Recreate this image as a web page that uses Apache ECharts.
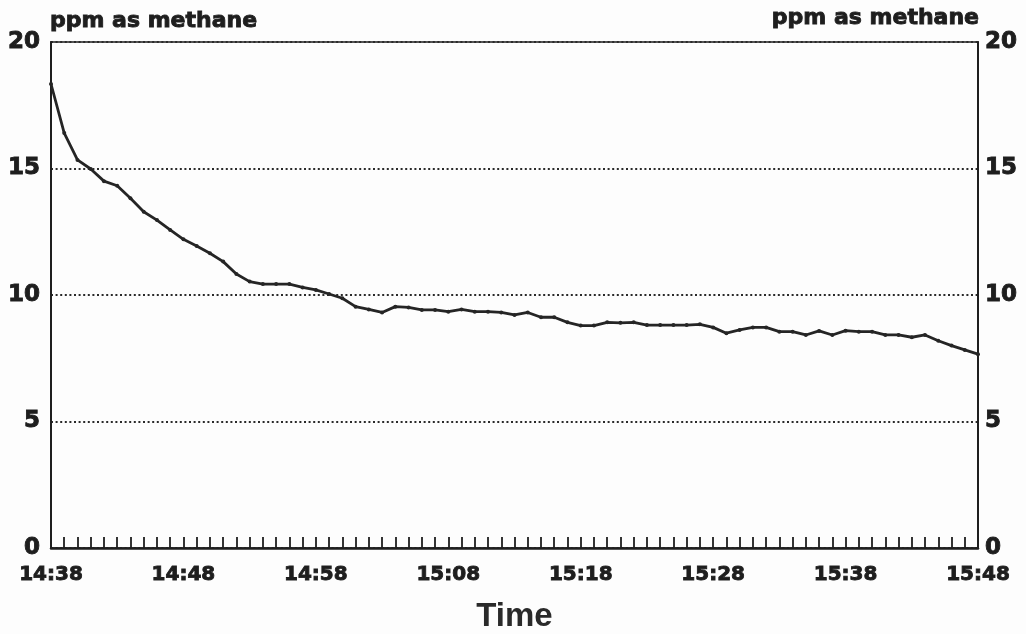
<!DOCTYPE html>
<html>
<head>
<meta charset="utf-8">
<title>ppm as methane</title>
<script src="https://cdn.jsdelivr.net/npm/echarts@6/dist/echarts.min.js"></script>
<style>
  html, body { margin: 0; padding: 0; background: #fdfdfd; }
  #chart { width: 1026px; height: 634px; }
</style>
</head>
<body>
<div id="chart"></div>
<script>
// Sample times, one reading per minute
const times = [
  '14:38','14:39','14:40','14:41','14:42','14:43','14:44','14:45','14:46','14:47',
  '14:48','14:49','14:50','14:51','14:52','14:53','14:54','14:55','14:56','14:57',
  '14:58','14:59','15:00','15:01','15:02','15:03','15:04','15:05','15:06','15:07',
  '15:08','15:09','15:10','15:11','15:12','15:13','15:14','15:15','15:16','15:17',
  '15:18','15:19','15:20','15:21','15:22','15:23','15:24','15:25','15:26','15:27',
  '15:28','15:29','15:30','15:31','15:32','15:33','15:34','15:35','15:36','15:37',
  '15:38','15:39','15:40','15:41','15:42','15:43','15:44','15:45','15:46','15:47',
  '15:48'
];

// Concentration, ppm as methane
const ppm = [
  18.34, 16.40, 15.34, 14.98, 14.50, 14.32, 13.82, 13.29, 12.96, 12.57,
  12.20, 11.94, 11.65, 11.32, 10.83, 10.53, 10.43, 10.43, 10.43, 10.30,
  10.20, 10.04,  9.87,  9.54,  9.43,  9.31,  9.54,  9.51,  9.41,  9.41,
   9.34,  9.43,  9.34,  9.34,  9.31,  9.21,  9.31,  9.12,  9.12,  8.92,
   8.79,  8.79,  8.92,  8.90,  8.92,  8.81,  8.81,  8.81,  8.81,  8.84,
   8.72,  8.49,  8.62,  8.72,  8.72,  8.55,  8.55,  8.42,  8.58,  8.42,
   8.59,  8.55,  8.55,  8.42,  8.42,  8.33,  8.42,  8.19,  8.00,  7.83,
   7.66
];

const yMin = 0, yMax = 20, yStep = 5;
const axisTitle = 'ppm as methane';
const xTitle = 'Time';

const ink = '#1e1e1e';
const labelFont = 'DejaVu Sans';

// heavy lettering: bold face plus a thin outline in the same ink
const heavy = {
  color: ink, fontFamily: labelFont, fontWeight: 'bold',
  textBorderColor: ink, textBorderWidth: 0.9
};

const chart = echarts.init(document.getElementById('chart'), null, { renderer: 'canvas' });

function valueAxis(side) {
  return {
    type: 'value',
    position: side,
    min: yMin, max: yMax, interval: yStep,
    name: axisTitle,
    nameLocation: 'end',
    nameGap: 10,
    nameTextStyle: Object.assign({}, heavy, {
      fontSize: 22,
      align: side === 'left' ? 'left' : 'right',
      padding: side === 'left' ? [0, 0, 0, -1] : [0, -1, 0, 0]
    }),
    axisLine: { show: true, lineStyle: { color: ink, width: 2 } },
    axisTick: { show: false },
    axisLabel: Object.assign({}, heavy, {
      fontSize: 23,
      margin: side === 'left' ? 11 : 7
    }),
    splitLine: side === 'left'
      ? { show: true, lineStyle: { color: '#2a2a2a', width: 1.8, type: [2, 2.6] } }
      : { show: false }
  };
}

chart.setOption({
  backgroundColor: '#fdfdfd',
  animation: false,
  grid: {
    left: 51, right: 48, top: 42, bottom: 86,
    outerBoundsMode: 'none',
    containLabel: false,
    show: true, borderColor: ink, borderWidth: 1.5, backgroundColor: 'transparent'
  },
  xAxis: {
    type: 'category',
    data: times,
    boundaryGap: false,
    name: xTitle,
    nameLocation: 'middle',
    nameGap: 52,
    nameTextStyle: {
      color: '#2a2a2a', fontFamily: 'Liberation Sans', fontWeight: 'bold', fontSize: 33
    },
    axisLine: { show: true, lineStyle: { color: ink, width: 2.5 } },
    axisTick: {
      show: true, interval: 0, inside: true, length: 11,
      lineStyle: { color: ink, width: 1.8 }
    },
    axisLabel: Object.assign({}, heavy, {
      interval: 9,
      fontSize: 20,
      margin: 17
    }),
    splitLine: { show: false }
  },
  yAxis: [valueAxis('left'), valueAxis('right')],
  series: [{
    type: 'line',
    data: ppm,
    yAxisIndex: 0,
    symbol: 'circle',
    symbolSize: 4,
    showSymbol: true,
    itemStyle: { color: '#252525' },
    lineStyle: { color: '#252525', width: 2.8 }
  }]
});
</script>
</body>
</html>
